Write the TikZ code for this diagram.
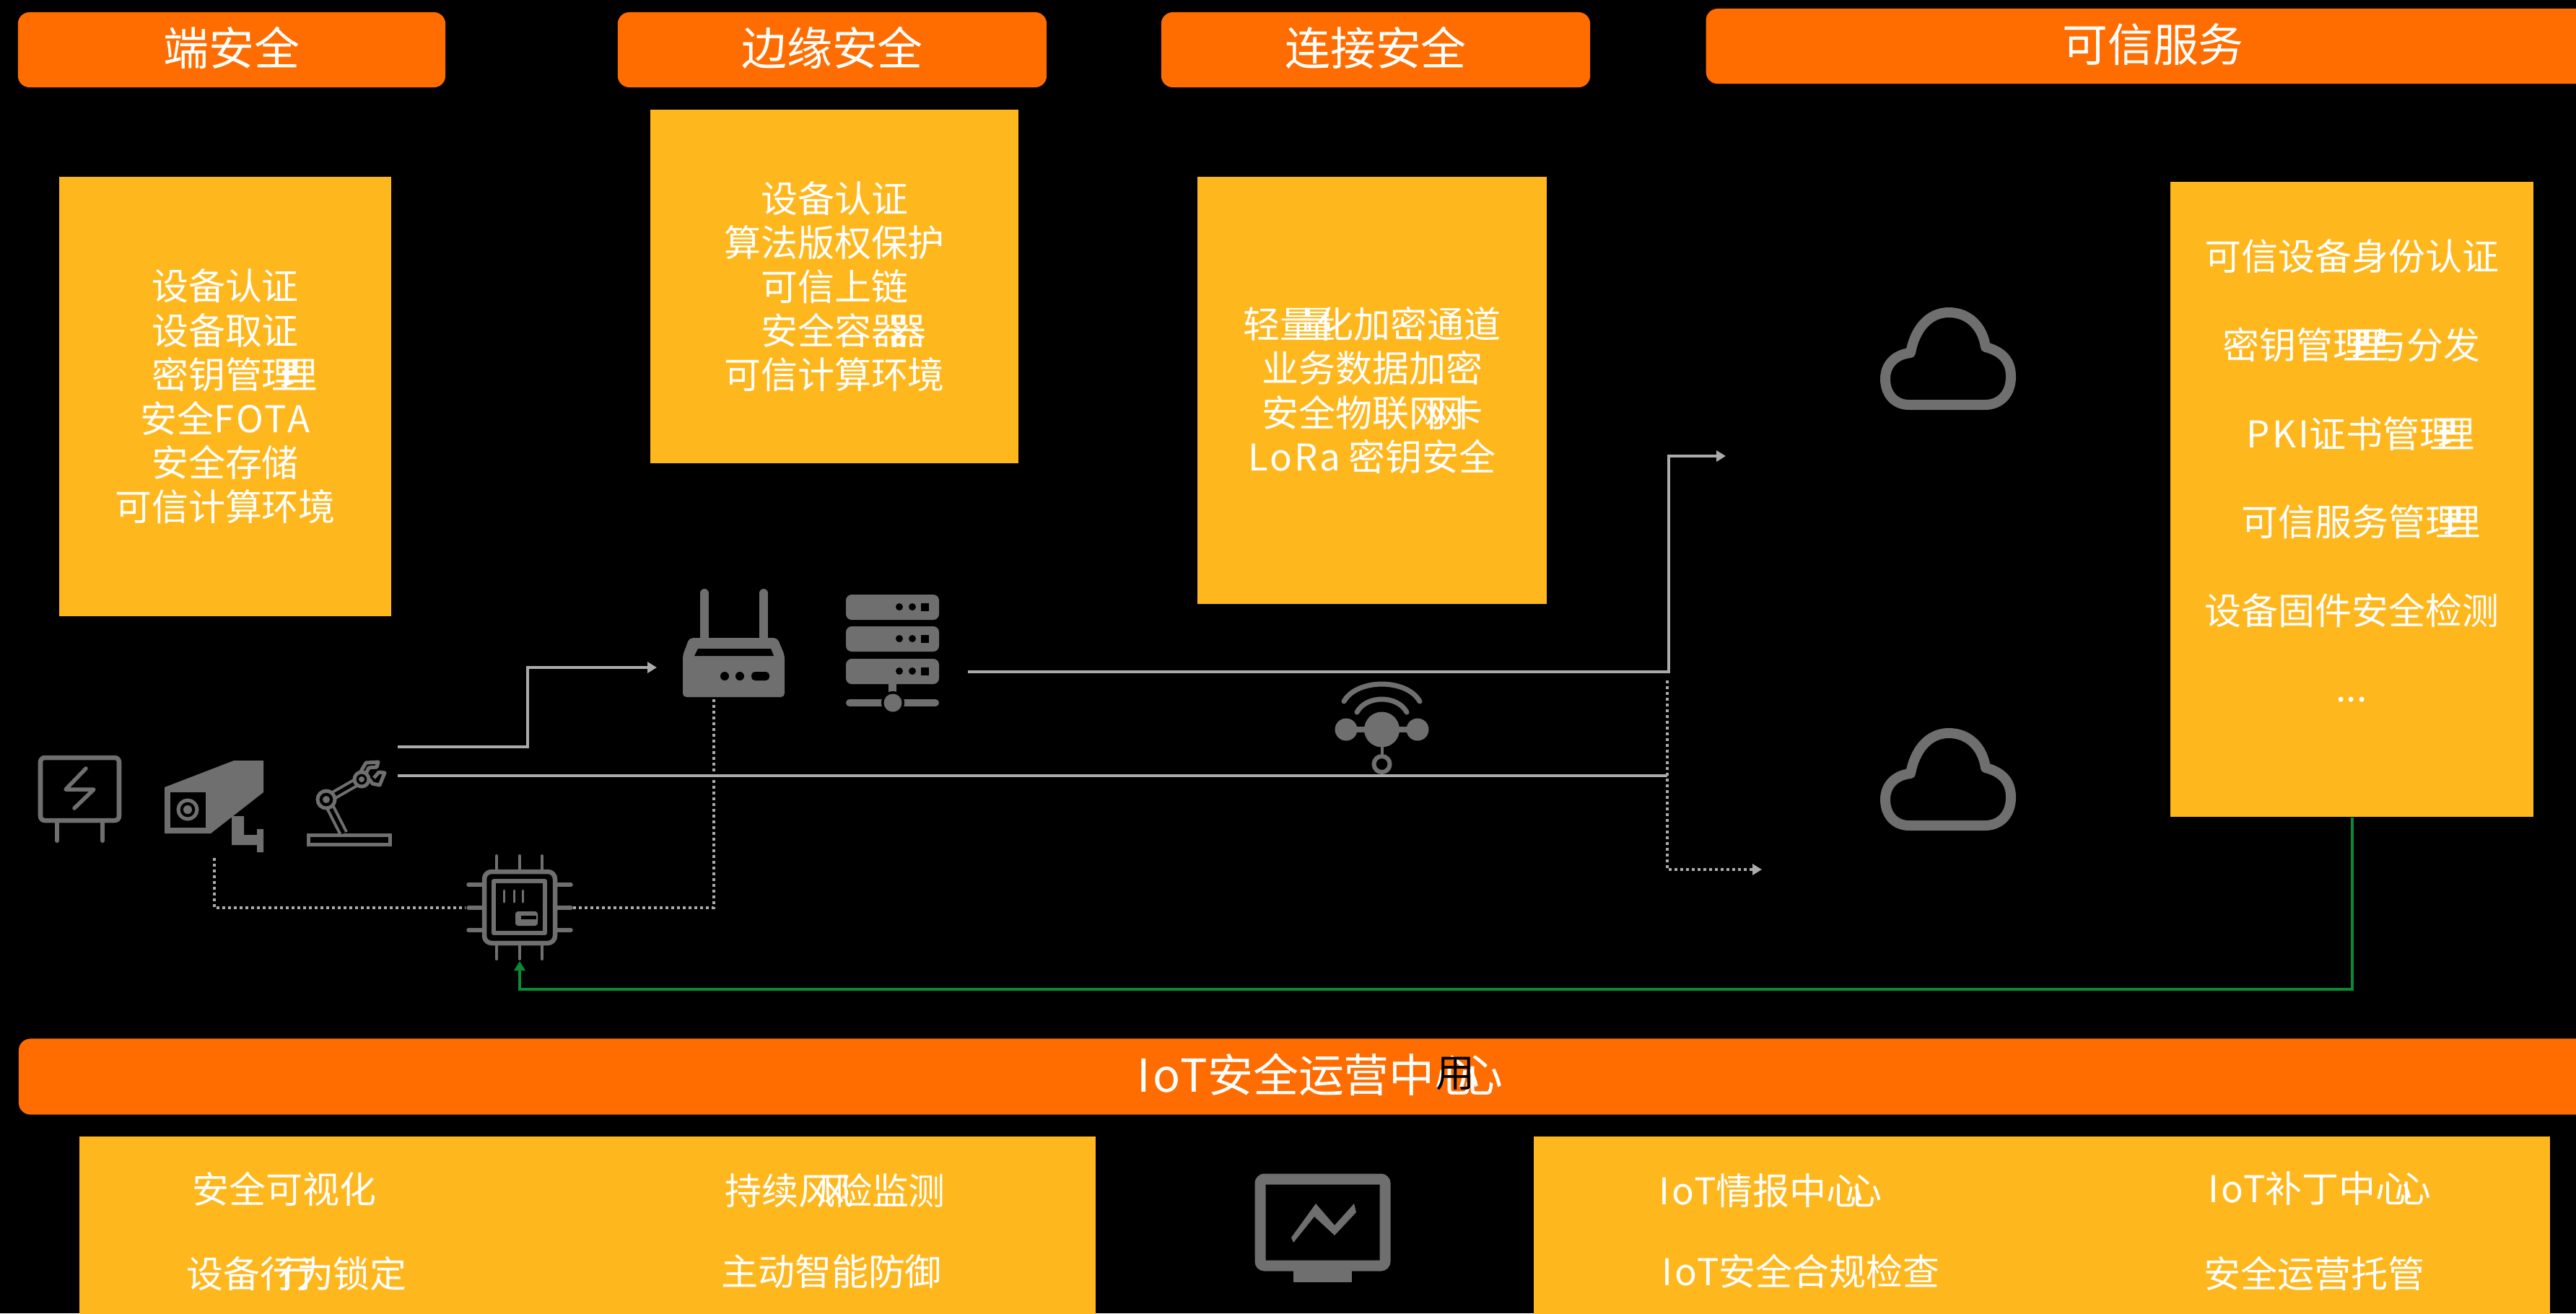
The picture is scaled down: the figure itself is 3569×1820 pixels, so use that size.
\documentclass[tikz,border=0pt]{standalone}
\usepackage{fontspec}
\setmainfont{Noto Sans CJK SC}
\usetikzlibrary{arrows.meta}
\definecolor{barorange}{HTML}{FF6D00}
\definecolor{boxyellow}{HTML}{FFB71E}
\definecolor{icongray}{HTML}{6F6F6F}
\definecolor{wiregray}{HTML}{ABABAB}
\definecolor{wiregreen}{HTML}{0A8A33}
\newcommand{\dupglyph}[1]{#1\kern-.5em#1\kern-.5em\relax}
\newcommand{\trk}[1]{{\addfontfeatures{LetterSpace=6}#1}}
\tikzset{
    titlebar/.style={fill=barorange,text=white,rounded corners=.16cm,inner sep=0pt,minimum height=1.04cm,text height=.55cm,text depth=.13cm,font=\fontsize{17.9}{20}\selectfont},
    yellowbox/.style={fill=boxyellow,text=white,inner sep=0pt,align=center,font=\fontsize{14.5}{17.4}\selectfont},
    bodytext/.style={text=white,inner sep=0pt,align=center,font=\fontsize{14.5}{17.4}\selectfont},
    iconline/.style={draw=icongray,line width=.055cm,line join=round,line cap=round},
    grayline/.style={draw=wiregray,line width=.04cm},
    dotline/.style={draw=wiregray,line width=.04cm,dash pattern=on .04cm off .04cm},
    greenline/.style={draw=wiregreen,line width=.04cm},
    smalltip/.style={-{Triangle[length=.13cm,width=.15cm]}},
}

\begin{document}
\begin{tikzpicture}[x=.01cm,y=-.01cm]
    \path[use as bounding box] (0,0) rectangle (3569,1820);
    \clip (0,0) rectangle (3569,1820);
    \fill[black] (0,0) rectangle (3569,1820);

    % title bars
    \node[titlebar,minimum width=5.92cm] (endbar) at (321,69) {端安全};
    \node[titlebar,minimum width=5.94cm] (edgebar) at (1153,69) {边缘安全};
    \node[titlebar,minimum width=5.94cm] (linkbar) at (1906,69) {连接安全};
    \node[titlebar,minimum width=12.38cm] (svcbar) at (2983,64) {可信服务};
    \node[titlebar,minimum width=35.72cm,minimum height=1.05cm] (socbar) at (1813,1492) {\trk{IoT}安全运营中\dupglyph{心}};
    \node[text=black,inner sep=0pt,font=\fontsize{15.3}{18}\selectfont] (socmark) at (2016,1488) {用};

    % upper boxes
    \node[yellowbox,minimum width=4.60cm,minimum height=6.08cm] (endbox) at (312,549.5)
        {设备认证\\设备取证\\密钥管\dupglyph{理}\\安全\trk{FOTA}\\安全存储\\可信计算环境};
    \node[yellowbox,minimum width=5.10cm,minimum height=4.90cm] (edgebox) at (1156,397)
        {设备认证\\算法版权保护\\可信上链\\安全容\dupglyph{器}\\可信计算环境};
    \node[yellowbox,minimum width=4.84cm,minimum height=5.91cm] (linkbox) at (1901,541)
        {轻\dupglyph{量}化加密通道\\业务数据加密\\安全物联\dupglyph{网}卡\\\trk{LoRa} 密钥安全};
    \node[yellowbox,minimum width=5.03cm,minimum height=8.80cm] (svcbox) at (3258.5,692) {};
    \node[bodytext,font=\fontsize{14.5}{34.9}\selectfont] (svctext) at (3258,660)
        {可信设备身份认证\\密钥管\dupglyph{理}与分发\\\trk{PKI}证书管\dupglyph{理}\\可信服务管\dupglyph{理}\\设备固件安全检测\\\raisebox{.16cm}{...}};

    % lower boxes
    \fill[boxyellow] (110,1575) rectangle (1518,1900);
    \fill[boxyellow] (2125,1575) rectangle (3533,1900);
    \node[bodytext] (socviz) at (394,1648) {安全可视化};
    \node[bodytext] (soclock) at (411,1765) {设备\dupglyph{行}为锁定};
    \node[bodytext] (socrisk) at (1157,1650) {持续\dupglyph{风}险监测};
    \node[bodytext] (socdef) at (1152,1762) {主动智能防御};
    \node[bodytext] (socintel) at (2440,1650) {\trk{IoT}情报中\dupglyph{心}};
    \node[bodytext] (socpatch) at (3201,1647) {\trk{IoT}补丁中\dupglyph{心}};
    \node[bodytext] (soccheck) at (2495,1762) {\trk{IoT}安全合规检查};
    \node[bodytext] (socops) at (3206,1765) {安全运营托管};

    % meter
    \draw[iconline,line width=.065cm,rounded corners=.06cm] (56,1050) rectangle (165,1137);
    \draw[iconline,line width=.06cm] (79,1140) -- (79,1165) (142,1140) -- (142,1165);
    \draw[iconline] (119,1065) -- (91,1094) -- (130,1094) -- (103,1120);

    % camera
    \fill[icongray] (228,1091) -- (324,1054) -- (365,1054) -- (365,1098) -- (292,1155) -- (228,1155) -- cycle;
    \fill[black] (236,1098) rectangle (285,1147);
    \draw[icongray,line width=.05cm] (260,1122) circle[radius=13];
    \fill[icongray] (260,1122) circle[radius=6];
    \fill[icongray] (321,1131) -- (338,1131) -- (338,1157) -- (356,1157) -- (356,1149) -- (365,1149)
        -- (365,1181) -- (356,1181) -- (356,1171) -- (321,1171) -- cycle;

    % robot arm
    \draw[icongray,line width=.05cm] (427,1157) rectangle (540,1170);
    \draw[icongray,line width=.13cm] (476,1155) -- (452,1108) -- (501,1080);
    \draw[black,line width=.05cm] (476,1155) -- (452,1108) -- (501,1080);
    \foreach \jx/\jy/\jr in {452/1108/12,501/1080/10}{
        \draw[icongray,line width=.05cm,fill=black] (\jx,\jy) circle[radius=\jr];
    }
    \fill[icongray] (452,1108) circle[radius=5];
    \fill[icongray] (501,1080) circle[radius=4];
    \draw[icongray,line width=.05cm,line join=round] (500,1069) -- (507,1057) -- (524,1056) -- (522,1063) -- (511,1064) -- (507,1072);
    \draw[icongray,line width=.05cm,line join=round] (512,1080) -- (516,1086) -- (526,1088) -- (533,1071) -- (525,1070) -- (518,1078);

    % router
    \draw[icongray,line width=.12cm,line cap=round] (976,822) -- (976,890) (1058,822) -- (1058,890);
    \fill[icongray,rounded corners=.05cm] (955,884) -- (1077,884) -- (1087,908) -- (1087,966) -- (946,966) -- (946,908) -- cycle;
    \fill[black] (967,899) -- (1068,899) -- (1072,909) -- (962,909) -- cycle;
    \foreach \dx in {1004,1025}{
        \fill[black] (\dx,937) circle[radius=6];
    }
    \fill[black,rounded corners=.05cm] (1041,931) rectangle (1066,943);

    % server
    \foreach \ry in {824,868,913}{
        \fill[icongray,rounded corners=.08cm] (1172,\ry) rectangle (1301,\ry+35);
        \fill[black] (1246,\ry+17) circle[radius=5];
        \fill[black] (1264,\ry+17) circle[radius=5];
        \fill[black] (1276,\ry+12) rectangle (1287,\ry+23);
    }
    \fill[icongray] (1231,948) rectangle (1242,960);
    \draw[icongray,line width=.1cm,line cap=round] (1177,974) -- (1296,974);
    \fill[black] (1237,974) circle[radius=16];
    \fill[icongray] (1237,974) circle[radius=12.5];

    % chip
    \draw[iconline,line width=.065cm,rounded corners=.1cm] (671,1208) rectangle (769,1307);
    \draw[iconline] (684,1221) rectangle (755,1293);
    \foreach \px in {688,720,751}{
        \draw[iconline,line width=.04cm] (\px,1186) -- (\px,1205) (\px,1310) -- (\px,1329);
    }
    \foreach \py in {1226,1258,1289}{
        \draw[iconline,line width=.055cm] (649,\py) -- (668,\py) (772,\py) -- (791,\py);
    }
    \foreach \lx in {698,712,724}{
        \draw[iconline,line width=.03cm] (\lx,1234) -- (\lx,1250);
    }
    \draw[iconline,line width=.04cm,fill=icongray,rounded corners=.02cm] (716,1265) rectangle (743,1281);
    \fill[black] (722,1269) rectangle (743,1274);

    % wireless module
    \draw[iconline,line width=.07cm] (1862,972) .. controls (1880,940) and (1949,940) .. (1967,972);
    \draw[iconline,line width=.07cm] (1880,987) .. controls (1893,963) and (1936,963) .. (1949,987);
    \fill[icongray] (1914.5,1011) circle[radius=24.5];
    \fill[icongray] (1865,1011) circle[radius=15.5];
    \fill[icongray] (1964,1011) circle[radius=15.5];
    \draw[icongray,line width=.08cm] (1865,1011) -- (1964,1011);
    \draw[icongray,line width=.04cm] (1914.5,1033) -- (1914.5,1049);
    \draw[icongray,line width=.06cm] (1914.5,1059) circle[radius=11];

    % clouds
    \foreach \cy in {0,583}{
        \draw[icongray,line width=.14cm,line join=round,shift={(0,\cy)}] (2645,561)
            .. controls (2624,561) and (2612,545) .. (2612,525)
            .. controls (2612,505) and (2626,491) .. (2647,489)
            .. controls (2653,456) and (2672,433) .. (2700,433)
            .. controls (2728,433) and (2747,453) .. (2751,481)
            .. controls (2774,487) and (2786,500) .. (2786,522)
            .. controls (2786,545) and (2772,561) .. (2750,561) -- cycle;
    }

    % monitor
    \draw[icongray,line width=.15cm,rounded corners=.06cm] (1746,1634) rectangle (1919,1754);
    \fill[icongray] (1792,1760) rectangle (1873,1777);
    \fill[icongray] (1789,1715) -- (1823,1668) -- (1849,1698) -- (1876,1668) -- (1879,1680)
        -- (1849,1712) -- (1821,1686) -- (1792,1722) -- cycle;

    % connector ends
    \coordinate (fieldup) at (551,1035);
    \coordinate (routerin) at (910,925);
    \coordinate (fieldmid) at (551,1075);
    \coordinate (linkend) at (2310,1075);
    \coordinate (serverout) at (1341,931);
    \coordinate (cloudup) at (2391,632);
    \coordinate (linktap) at (2310,943);
    \coordinate (clouddown) at (2441,1205);
    \coordinate (routerdown) at (989,969);
    \coordinate (chipright) at (793,1258);
    \coordinate (camdown) at (297,1189);
    \coordinate (chipleft) at (645,1258);
    \coordinate (chipin) at (720,1332);

    \draw[grayline,smalltip] (fieldup) -- ++(180,0) |- (routerin);
    \draw[grayline] (fieldmid) -- (linkend);
    \draw[grayline,smalltip] (serverout) -- ++(971,0) |- (cloudup);
    \draw[dotline,smalltip] (linktap) |- (clouddown);
    \draw[dotline] (routerdown) |- (chipright);
    \draw[dotline] (camdown) |- (chipleft);
    \draw[greenline,smalltip] (svcbox.south) -- ++(0,238) -| (chipin);

\end{tikzpicture}
\end{document}
